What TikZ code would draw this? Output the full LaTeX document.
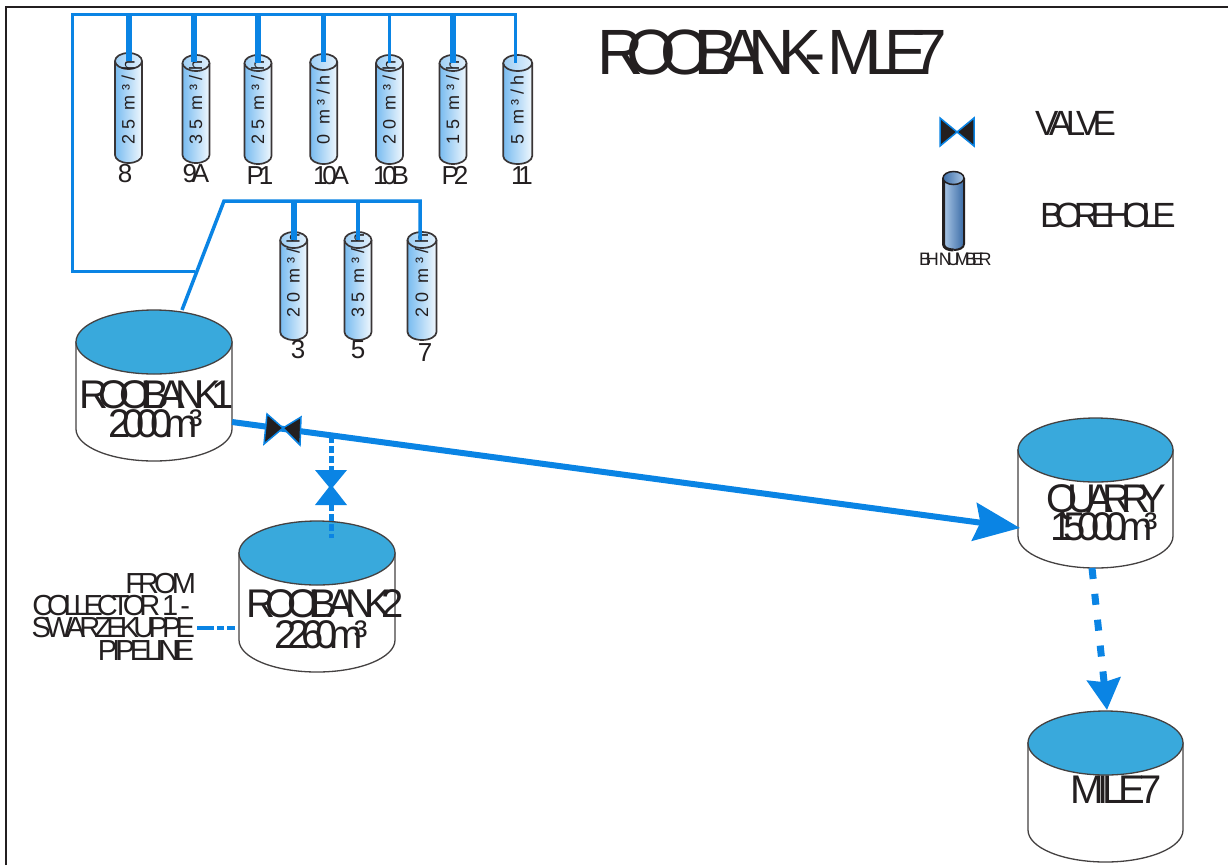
\documentclass[tikz,border=0pt]{standalone}
\usepackage{fontspec}
\setmainfont{Liberation Sans}
\usetikzlibrary{arrows.meta,shapes.geometric}
\definecolor{pipe}{HTML}{0A84E4}
\definecolor{water}{HTML}{39A9DC}
\definecolor{ink}{HTML}{231F20}
\definecolor{legendlight}{HTML}{A9C6E6}
\definecolor{legenddark}{HTML}{3F6FA8}
\newcommand{\tx}[3]{{\fontsize{#1}{#1}\selectfont\addfontfeature{LetterSpace=#2}#3}}
\tikzset{
  label text/.style={inner sep=0pt,outer sep=0pt,anchor=base west,text=ink},
  pipeline/.style={draw=pipe,line width=#1},
  pipeline/.default=3pt,
  outline/.style={draw=ink!85,line width=1.3pt},
  boreline/.style={draw=ink!90,line width=1.7pt},
  holder/.style={inner sep=0pt,outer sep=0pt},
}
% \tankshape{name}{cx}{rx}{cy top}{cy bottom}{ry}
\newcommand{\tankshape}[6]{%
  \pgfmathsetmacro\xL{#2-#3}\pgfmathsetmacro\xR{#2+#3}%
  \pgfmathsetmacro\xa{#2-0.5523*#3}\pgfmathsetmacro\xb{#2+0.5523*#3}%
  \pgfmathsetmacro\yc{#5+0.5523*#6}\pgfmathsetmacro\yb{#5+#6}%
  \path[fill=white,outline] (\xL,#4) -- (\xL,#5) .. controls (\xL,\yc) and (\xa,\yb) .. (#2,\yb) .. controls (\xb,\yb) and (\xR,\yc) .. (\xR,#5) -- (\xR,#4) -- cycle;
  \node[holder,fill=water,outline,shape=ellipse,minimum width=2*#3 pt,minimum height=2*#6 pt] (#1) at (#2,#4) {};
}
% \borehole{name}{cx}{rx}{top}{bottom}{flow}{text y}{label}{label position}
\newcommand{\borehole}[9]{%
  \pgfmathsetmacro\xL{#2-#3}\pgfmathsetmacro\xR{#2+#3}%
  \pgfmathsetmacro\xa{#2-0.5523*#3}\pgfmathsetmacro\xb{#2+0.5523*#3}%
  \pgfmathsetmacro\yT{#4+8}\pgfmathsetmacro\yB{#5-8}%
  \pgfmathsetmacro\yc{\yB+4.4}%
  \pgfmathsetmacro\xT{#2+6}%
  \path[left color=pipe!55,right color=pipe!6] (\xL,\yT) -- (\xL,\yB) .. controls (\xL,\yc) and (\xa,#5) .. (#2,#5) .. controls (\xb,#5) and (\xR,\yc) .. (\xR,\yB) -- (\xR,\yT) -- cycle;
  \draw[boreline] (\xL,\yT) -- (\xL,\yB) .. controls (\xL,\yc) and (\xa,#5) .. (#2,#5) .. controls (\xb,#5) and (\xR,\yc) .. (\xR,\yB) -- (\xR,\yT);
  \node[holder,left color=pipe!40,right color=pipe!12,boreline,shape=ellipse,minimum width=2*#3 pt,minimum height=16pt] (#1) at (#2,\yT) {};
  \node[label text,rotate=90] (#1f) at (\xT,#7) {\tx{18}{25}{#6}};
  \node[holder,text=ink,anchor=base] (#1l) at (#9) {\tx{26}{-20}{#8}};
}
\begin{document}
\begin{tikzpicture}[x=1pt,y=-1pt]
\useasboundingbox (0,0) rectangle (1228,865);
\fill[white] (0,0) rectangle (1228,865);
% page frame
\draw[ink,line width=1.5pt] (6,865) -- (6,7) -- (1228,7);

% boreholes, upper row
\borehole{b8}{128.5}{13.5}{53}{163}{25 m³/h}{144}{8}{125,182}
\borehole{b9}{196}{13.5}{55}{163}{35 m³/h}{144}{9A}{196,182}
\borehole{bP1}{258}{13.5}{55}{164}{25 m³/h}{144}{P1}{260,184}
\borehole{b10A}{323.7}{13.5}{54}{164}{0 m³/h}{144}{10A}{331,184}
\borehole{b10B}{389.5}{13.5}{55}{164}{20 m³/h}{144}{10B}{391,184}
\borehole{bP2}{453}{13.5}{55}{164}{15 m³/h}{144}{P2}{455,184}
\borehole{b11}{517.7}{14.5}{55}{164}{5 m³/h}{144}{11}{522,184}
% boreholes, lower row
\borehole{b3}{293.7}{13.5}{232}{340}{20 m³/h}{317}{3}{298,358}
\borehole{b5}{358}{13.5}{232}{340}{35 m³/h}{317}{5}{358,358}
\borehole{b7}{422}{14.5}{232}{340}{20 m³/h}{317}{7}{425,361}

% tanks
\tankshape{r1}{154}{78}{342}{429}{32}
\tankshape{r2}{317}{78}{553}{640}{32}
\tankshape{qu}{1095.5}{77.5}{450}{536}{32}
\tankshape{mi}{1105.5}{77.5}{743}{830}{32}

% junction coordinates
\coordinate (hdrL) at (72,14);
\coordinate (hdrR) at (515,14);
\coordinate (hdrB) at (72,271);
\coordinate (jn) at (195,271);
\coordinate (r1top) at (182,310);
\coordinate (elbow) at (224,201);
\coordinate (row2R) at (420,201);
\coordinate (r1out) at (232,422);
\coordinate (quin) at (1020,528);
\coordinate (tee) at (331,436);
\coordinate (r2in) at (331,538);
\coordinate (swz) at (197,628);
\coordinate (r2w) at (238,628);
\coordinate (quout) at (1092,568);
\coordinate (miin) at (1107,710);

% collector pipes
\draw[pipeline,line join=miter] (jn) -- (hdrB) -- (hdrL) -- (hdrR) -- (hdrR |- b11.center);
\draw[pipeline=3.5pt,line join=miter] (r1top) -- (elbow) -- (row2R) -- (row2R |- b7.center);
\draw[pipeline=6pt] (b8.center |- hdrL) -- (b8.center);
\draw[pipeline=5.5pt] (194,14) -- (194,62);
\draw[pipeline=6pt] (bP1.center |- hdrL) -- (bP1.center);
\draw[pipeline=5.5pt] (b10A.center |- hdrL) -- (b10A.center);
\draw[pipeline=3.5pt] (b10B.center |- hdrL) -- (b10B.center);
\draw[pipeline=5.5pt] (bP2.center |- hdrL) -- (bP2.center);
\draw[pipeline=6pt] (b3.center |- elbow) -- (b3.center);
\draw[pipeline=3.5pt] (b5.center |- elbow) -- (b5.center);

% main line
\draw[pipeline=6pt,-{Stealth[length=46pt,width=38pt,inset=6pt]}] (r1out) -- (quin);
% tee to Rooibank 2
\node[holder,minimum size=34pt] (v2) at (331,487) {};
\draw[pipeline=5pt,dash pattern=on 7pt off 3pt] (tee) -- (v2.north);
\draw[pipeline=5pt,dash pattern=on 7pt off 3pt] (v2.south) -- (r2in);
\fill[pipe] (315,470) -- (347,470) -- (333,487) -- (347,505) -- (315,505) -- (329,487) -- cycle;
% inlet from Swartkuppe
\draw[pipeline=3.5pt,dash pattern=on 17pt off 3pt on 7pt off 3pt on 8pt off 3pt] (swz) -- (r2w);
% quarry to mile 7
\draw[pipeline=7pt,dash pattern=on 11pt off 15pt,-{Stealth[length=31pt,width=33pt,inset=3pt]}] (quout) -- (miin);

% valve on main line
\node[holder,minimum size=30pt] (v1) at (283,428) {};
\filldraw[fill=ink,draw=pipe,line width=1.5pt,line join=miter] (267,414) -- (283,428) -- (264,444) -- cycle;
\filldraw[fill=ink,draw=pipe,line width=1.5pt,line join=miter] (301,417) -- (283,428) -- (300,445) -- cycle;

% legend valve
\node[holder,minimum size=30pt] (lv) at (957,132) {};
\filldraw[fill=ink,draw=pipe,line width=1.5pt,line join=miter] (940,118) -- (957,132) -- (940,146) -- cycle;
\filldraw[fill=ink,draw=pipe,line width=1.5pt,line join=miter] (974,118) -- (957,132) -- (974,146) -- cycle;
% legend borehole
\path[left color=legendlight,right color=legenddark] (944,178) -- (944,244) .. controls (944,248) and (948,250) .. (953.5,250) .. controls (959,250) and (963,248) .. (963,244) -- (963,178) -- cycle;
\draw[ink,line width=3pt] (943.5,178) -- (943.5,244) .. controls (943.5,248) and (948,250) .. (953.5,250);
\draw[ink,line width=2pt] (953.5,250) .. controls (959,250) and (964,248) .. (964,244) -- (964,178);
\node[holder,left color=legenddark,right color=legendlight,draw=ink,line width=1.5pt,shape=ellipse,minimum width=21pt,minimum height=13pt] (lb) at (953.5,178) {};

% texts
\node[label text] (title) at (597,74) {\tx{64}{-25.5}{ROOIBANK- MILE7}};
\node[label text] (tv) at (1035,135) {\tx{35}{-19}{VALVE}};
\node[label text] (tb) at (1040,227) {\tx{35}{-24}{BOREHOLE}};
\node[label text] (tn) at (919,265) {\tx{18}{-28}{BH NUMBER}};
\node[label text] (r1a) at (79,408) {\tx{40}{-24.5}{ROOIBANK1}};
\node[label text] (r1b) at (108,437) {\tx{40}{-20.5}{2000m³}};
\node[label text] (r2a) at (246,617) {\tx{40}{-23.5}{ROOIBANK2}};
\node[label text] (r2b) at (274,648) {\tx{40}{-21}{2260m³}};
\node[label text] (qa) at (1046,512) {\tx{40}{-25}{QUARRY}};
\node[label text] (qb) at (1050,540) {\tx{40}{-21}{15000m³}};
\node[label text] (ma) at (1070,803) {\tx{40}{-15}{MILE7}};
\node[holder,text=ink,anchor=base east] (f1) at (196,593) {\tx{29}{-17}{FROM}};
\node[holder,text=ink,anchor=base east] (f2) at (190,615) {\tx{29}{-21}{COLLECTOR 1 -}};
\node[holder,text=ink,anchor=base east] (f3) at (195,637) {\tx{29}{-20}{SWARZEKUPPE}};
\node[holder,text=ink,anchor=base east] (f4) at (194,660) {\tx{29}{-17}{PIPELINE}};
\end{tikzpicture}
\end{document}
